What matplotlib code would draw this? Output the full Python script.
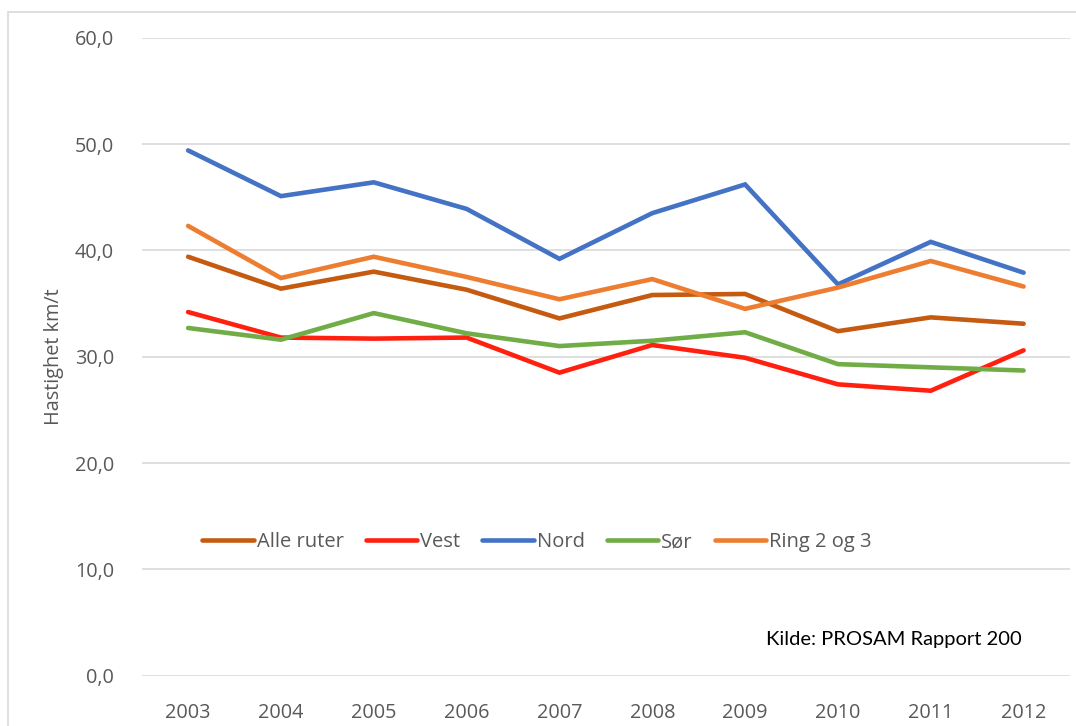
import matplotlib
matplotlib.use("Agg")
import matplotlib.pyplot as plt
from matplotlib.patches import Rectangle

years = ["2003", "2004", "2005", "2006", "2007", "2008", "2009", "2010", "2011", "2012"]
alle_ruter = [39.4, 36.4, 38.0, 36.3, 33.6, 35.8, 35.9, 32.4, 33.7, 33.1]
vest = [34.2, 31.8, 31.7, 31.8, 28.5, 31.1, 29.9, 27.4, 26.8, 30.6]
nord = [49.4, 45.1, 46.4, 43.9, 39.2, 43.5, 46.2, 36.8, 40.8, 37.9]
sor = [32.7, 31.6, 34.1, 32.2, 31.0, 31.5, 32.3, 29.3, 29.0, 28.7]
ring = [42.3, 37.4, 39.4, 37.5, 35.4, 37.3, 34.5, 36.5, 39.0, 36.6]

series = [
    ("Alle ruter", alle_ruter, "#C55A11"),
    ("Vest", vest, "#FF2010"),
    ("Nord", nord, "#4472C4"),
    ("Sør", sor, "#70AD47"),
    ("Ring 2 og 3", ring, "#ED7D31"),
]
yticks = [0, 10, 20, 30, 40, 50, 60]
ytick_labels = ["0,0", "10,0", "20,0", "30,0", "40,0", "50,0", "60,0"]

plt.rcParams['font.family'] = ['Open Sans', 'DejaVu Sans']

fig = plt.figure(figsize=(10.76, 7.26), dpi=100)
ax = fig.add_axes([141.7/1076, (726-675.7)/726, (1070-141.7)/1076, (675.7-37.7)/726])

x = list(range(len(years)))
for name, vals, col in series:
    ax.plot(x, vals, color=col, lw=3.3, label=name, solid_capstyle='round', solid_joinstyle='miter')

ax.set_xlim(-0.5, len(years) - 0.5)
ax.set_ylim(0, 60)
ax.set_yticks(yticks)
ax.set_yticklabels(ytick_labels)
ax.set_xticks(x)
ax.set_xticklabels(years)
ax.tick_params(axis='both', length=0, labelsize=14.3, labelcolor="#595959")
ax.tick_params(axis='y', pad=20)
ax.tick_params(axis='x', pad=20)
ax.grid(axis='y', color="#D9D9D9", lw=1.2)
ax.set_axisbelow(True)
for s in ax.spines.values():
    s.set_visible(False)

ax.set_ylabel("Hastighet km/t", fontsize=14.3, color="#595959", labelpad=8)

leg = ax.legend(loc='center', bbox_to_anchor=(0.426, (12.55)/60), ncol=5, frameon=False,
                fontsize=14.5, handlelength=2.55, handletextpad=0.15, columnspacing=1.1,
                borderaxespad=0)
for t in leg.get_texts():
    t.set_color("#595959")

fig.text(1021.5/1076, 1 - 639.7/726, "Kilde: PROSAM Rapport 200", ha='right', va='center',
         fontsize=14.5, color="black", family=['Lato', 'DejaVu Sans'])

fig.patches.append(Rectangle((8.3/1076, -0.1), 1.2, 1 - 12.3/726 + 0.1, transform=fig.transFigure,
                             fill=False, edgecolor="#D9D9D9", lw=1.2))

fig.savefig("out.png", dpi=100)
